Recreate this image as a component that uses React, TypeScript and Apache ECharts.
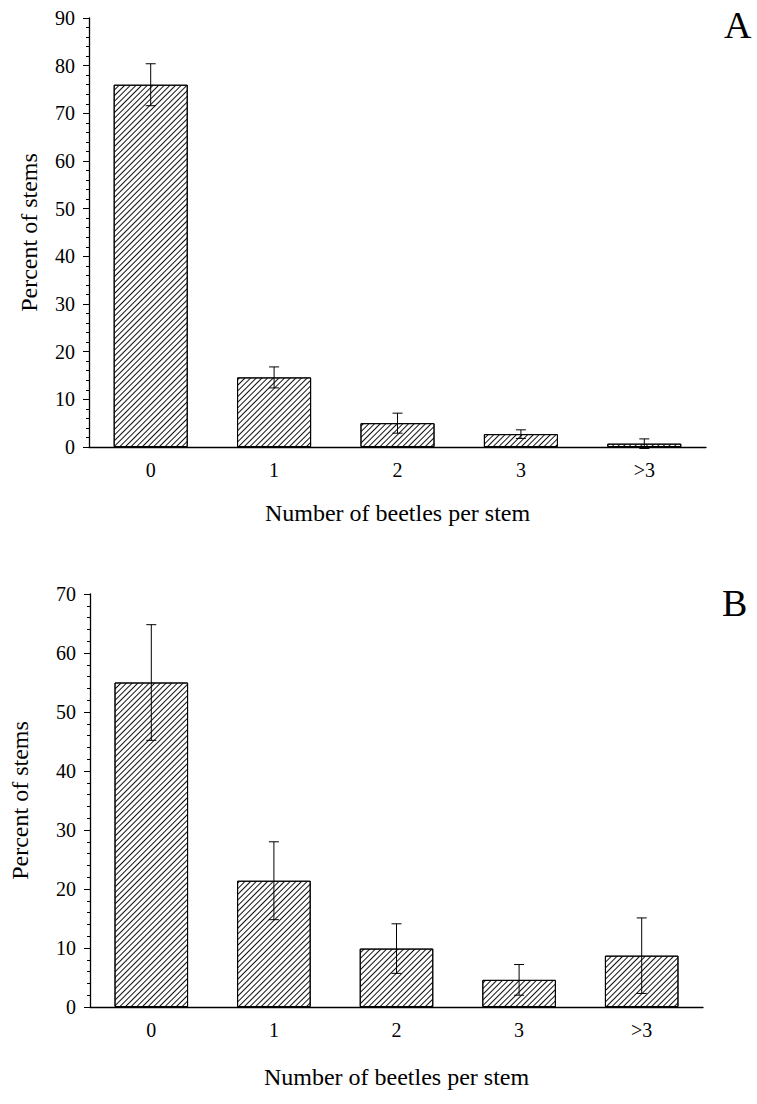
import React, { useEffect, useRef } from "react";
import * as echarts from "echarts";

const categories = ["0", "1", "2", "3", ">3"];
const valuesA = [76, 14.6, 5, 2.7, 0.7];
const errA = [4.4, 2.2, 2.1, 0.9, 1.0];
const valuesB = [55, 21.4, 9.9, 4.6, 8.7];
const errB = [9.8, 6.6, 4.2, 2.6, 6.4];
const panelLabels = ["A", "B"];

const FONT = '"Liberation Serif", "Times New Roman", serif';

export default function App() {
  const ref = useRef<HTMLDivElement>(null);
  useEffect(() => {
    document.body.style.margin = "0";
    const chart = echarts.init(ref.current!, null, { renderer: "svg" });
    const decal = {
      symbol: "rect",
      symbolSize: 1,
      dashArrayX: [1, 0],
      dashArrayY: [1, 3],
      rotation: -Math.PI / 4,
      color: "#111",
      backgroundColor: "#fff",
    };
    const errData = (vals: number[], errs: number[]) =>
      vals.map((v, i) => [i, v - errs[i], v + errs[i]]);
    const renderErr = (params: any, api: any) => {
      const lo = api.coord([api.value(0), api.value(1)]);
      const hi = api.coord([api.value(0), api.value(2)]);
      const hw = 5;
      const st = { stroke: "#000", lineWidth: 1 };
      return {
        type: "group",
        children: [
          { type: "line", shape: { x1: hi[0], y1: hi[1], x2: lo[0], y2: lo[1] }, style: st },
          { type: "line", shape: { x1: hi[0] - hw, y1: hi[1], x2: hi[0] + hw, y2: hi[1] }, style: st },
          { type: "line", shape: { x1: lo[0] - hw, y1: lo[1], x2: lo[0] + hw, y2: lo[1] }, style: st },
        ],
      };
    };
    const xAxisBase = (gridIndex: number, gap: number) => ({
      type: "category",
      gridIndex,
      data: categories,
      name: "Number of beetles per stem",
      nameLocation: "middle",
      nameGap: gap,
      nameTextStyle: { fontFamily: FONT, fontSize: 24, color: "#000" },
      axisLine: { lineStyle: { color: "#000", width: 1.3 } },
      axisTick: { alignWithLabel: true, length: 6, lineStyle: { color: "#000" } },
      axisLabel: { fontFamily: FONT, fontSize: 20, color: "#000", margin: 13 },
    });
    const yAxisBase = (gridIndex: number, max: number, gap: number) => ({
      type: "value",
      gridIndex,
      min: 0,
      max,
      interval: 10,
      name: "Percent of stems",
      nameLocation: "middle",
      nameGap: gap,
      nameTextStyle: { fontFamily: FONT, fontSize: 24, color: "#000" },
      axisLine: { show: true, lineStyle: { color: "#000", width: 1.3 } },
      axisTick: { show: true, length: 6, lineStyle: { color: "#000" } },
      minorTick: { show: true, splitNumber: 5, length: 3, lineStyle: { color: "#000" } },
      splitLine: { show: false },
      axisLabel: { fontFamily: FONT, fontSize: 20, color: "#000", margin: 14 },
    });
    chart.setOption({
      animation: false,
      backgroundColor: "#fff",
      grid: [
        { left: 89, top: 18, width: 617, height: 429 },
        { left: 88, top: 594, width: 615, height: 413 },
      ],
      xAxis: [xAxisBase(0, 54), xAxisBase(1, 58)],
      yAxis: [yAxisBase(0, 90, 48), yAxisBase(1, 70, 58)],
      graphic: [
        { type: "text", left: 724, top: 6, style: { text: panelLabels[0], font: `38px ${FONT}`, fill: "#000" } },
        { type: "text", left: 722, top: 584, style: { text: panelLabels[1], font: `38px ${FONT}`, fill: "#000" } },
      ],
      series: [
        {
          type: "bar",
          xAxisIndex: 0,
          yAxisIndex: 0,
          data: valuesA,
          barWidth: "60%",
          itemStyle: { color: "#fff", borderColor: "#000", borderWidth: 1, decal },
        },
        {
          type: "custom",
          xAxisIndex: 0,
          yAxisIndex: 0,
          data: errData(valuesA, errA),
          renderItem: renderErr,
          z: 5,
        },
        {
          type: "bar",
          xAxisIndex: 1,
          yAxisIndex: 1,
          data: valuesB,
          barWidth: "60%",
          itemStyle: { color: "#fff", borderColor: "#000", borderWidth: 1, decal },
        },
        {
          type: "custom",
          xAxisIndex: 1,
          yAxisIndex: 1,
          data: errData(valuesB, errB),
          renderItem: renderErr,
          z: 5,
        },
      ],
    });
    return () => chart.dispose();
  }, []);
  return <div ref={ref} style={{ width: 757, height: 1104 }} />;
}
